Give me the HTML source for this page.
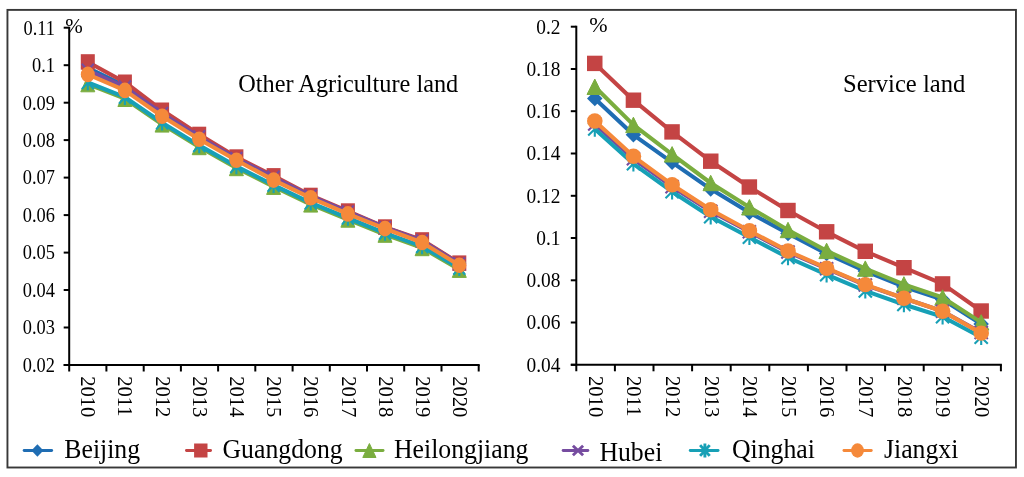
<!DOCTYPE html>
<html><head><meta charset="utf-8"><style>
html,body{margin:0;padding:0;background:#fff;width:1024px;height:477px;overflow:hidden}
svg{display:block;will-change:transform}
text{font-family:"Liberation Serif",serif;fill:#000}
.tk{font-size:20px}
.yr{font-size:20.6px}
.pc{font-size:21px}
.pc2{font-size:22px}
.tt2{font-size:24.6px}
.tt{font-size:24.3px}
.lg{font-size:28px}
</style></head><body>
<svg width="1024" height="477" viewBox="0 0 1024 477">
<rect x="7.45" y="9.9" width="1008.5" height="457.6" fill="none" stroke="#383838" stroke-width="1.9"/>
<line x1="63.7" y1="27.7" x2="69.2" y2="27.7" stroke="#000" stroke-width="2"/>
<text transform="translate(55.0,34.5) scale(0.92,1)" text-anchor="end" class="tk">0.11</text>
<line x1="63.7" y1="65.2" x2="69.2" y2="65.2" stroke="#000" stroke-width="2"/>
<text transform="translate(55.0,72.0) scale(0.92,1)" text-anchor="end" class="tk">0.1</text>
<line x1="63.7" y1="102.7" x2="69.2" y2="102.7" stroke="#000" stroke-width="2"/>
<text transform="translate(55.0,109.5) scale(0.92,1)" text-anchor="end" class="tk">0.09</text>
<line x1="63.7" y1="140.1" x2="69.2" y2="140.1" stroke="#000" stroke-width="2"/>
<text transform="translate(55.0,146.9) scale(0.92,1)" text-anchor="end" class="tk">0.08</text>
<line x1="63.7" y1="177.6" x2="69.2" y2="177.6" stroke="#000" stroke-width="2"/>
<text transform="translate(55.0,184.4) scale(0.92,1)" text-anchor="end" class="tk">0.07</text>
<line x1="63.7" y1="215.1" x2="69.2" y2="215.1" stroke="#000" stroke-width="2"/>
<text transform="translate(55.0,221.9) scale(0.92,1)" text-anchor="end" class="tk">0.06</text>
<line x1="63.7" y1="252.6" x2="69.2" y2="252.6" stroke="#000" stroke-width="2"/>
<text transform="translate(55.0,259.4) scale(0.92,1)" text-anchor="end" class="tk">0.05</text>
<line x1="63.7" y1="290.0" x2="69.2" y2="290.0" stroke="#000" stroke-width="2"/>
<text transform="translate(55.0,296.8) scale(0.92,1)" text-anchor="end" class="tk">0.04</text>
<line x1="63.7" y1="327.5" x2="69.2" y2="327.5" stroke="#000" stroke-width="2"/>
<text transform="translate(55.0,334.3) scale(0.92,1)" text-anchor="end" class="tk">0.03</text>
<line x1="63.7" y1="365.0" x2="69.2" y2="365.0" stroke="#000" stroke-width="2"/>
<text transform="translate(55.0,371.8) scale(0.92,1)" text-anchor="end" class="tk">0.02</text>
<line x1="69.2" y1="26.7" x2="69.2" y2="371.5" stroke="#000" stroke-width="2"/>
<line x1="63.7" y1="365.0" x2="479.7" y2="365.0" stroke="#000" stroke-width="2"/>
<line x1="106.4" y1="365.0" x2="106.4" y2="371.5" stroke="#000" stroke-width="2"/>
<line x1="143.7" y1="365.0" x2="143.7" y2="371.5" stroke="#000" stroke-width="2"/>
<line x1="180.9" y1="365.0" x2="180.9" y2="371.5" stroke="#000" stroke-width="2"/>
<line x1="218.1" y1="365.0" x2="218.1" y2="371.5" stroke="#000" stroke-width="2"/>
<line x1="255.3" y1="365.0" x2="255.3" y2="371.5" stroke="#000" stroke-width="2"/>
<line x1="292.6" y1="365.0" x2="292.6" y2="371.5" stroke="#000" stroke-width="2"/>
<line x1="329.8" y1="365.0" x2="329.8" y2="371.5" stroke="#000" stroke-width="2"/>
<line x1="367.0" y1="365.0" x2="367.0" y2="371.5" stroke="#000" stroke-width="2"/>
<line x1="404.2" y1="365.0" x2="404.2" y2="371.5" stroke="#000" stroke-width="2"/>
<line x1="441.5" y1="365.0" x2="441.5" y2="371.5" stroke="#000" stroke-width="2"/>
<line x1="478.7" y1="365.0" x2="478.7" y2="371.5" stroke="#000" stroke-width="2"/>
<text transform="translate(81.0,376.2) rotate(90)" class="yr">2010</text>
<text transform="translate(118.2,376.2) rotate(90)" class="yr">2011</text>
<text transform="translate(155.5,376.2) rotate(90)" class="yr">2012</text>
<text transform="translate(192.7,376.2) rotate(90)" class="yr">2013</text>
<text transform="translate(229.9,376.2) rotate(90)" class="yr">2014</text>
<text transform="translate(267.1,376.2) rotate(90)" class="yr">2015</text>
<text transform="translate(304.4,376.2) rotate(90)" class="yr">2016</text>
<text transform="translate(341.6,376.2) rotate(90)" class="yr">2017</text>
<text transform="translate(378.8,376.2) rotate(90)" class="yr">2018</text>
<text transform="translate(416.1,376.2) rotate(90)" class="yr">2019</text>
<text transform="translate(453.3,376.2) rotate(90)" class="yr">2020</text>
<polyline points="87.8,67.8 124.9,85.9 162.1,112.8 199.2,136.4 236.4,158.3 273.6,177.4 310.7,196.2 347.9,212.0 385.0,227.6 422.1,240.8 459.3,263.8" fill="none" stroke="#1f6db3" stroke-width="4.1" stroke-linejoin="round"/>
<path d="M87.8,60.1L94.8,67.8L87.8,75.6L80.8,67.8Z" fill="#1f6db3"/>
<path d="M124.9,78.1L131.9,85.9L124.9,93.6L117.9,85.9Z" fill="#1f6db3"/>
<path d="M162.1,105.1L169.1,112.8L162.1,120.6L155.1,112.8Z" fill="#1f6db3"/>
<path d="M199.2,128.7L206.2,136.4L199.2,144.2L192.2,136.4Z" fill="#1f6db3"/>
<path d="M236.4,150.6L243.4,158.3L236.4,166.1L229.4,158.3Z" fill="#1f6db3"/>
<path d="M273.6,169.6L280.6,177.4L273.6,185.1L266.6,177.4Z" fill="#1f6db3"/>
<path d="M310.7,188.5L317.7,196.2L310.7,204.0L303.7,196.2Z" fill="#1f6db3"/>
<path d="M347.9,204.3L354.9,212.0L347.9,219.8L340.9,212.0Z" fill="#1f6db3"/>
<path d="M385.0,219.8L392.0,227.6L385.0,235.3L378.0,227.6Z" fill="#1f6db3"/>
<path d="M422.1,233.0L429.1,240.8L422.1,248.5L415.1,240.8Z" fill="#1f6db3"/>
<path d="M459.3,256.1L466.3,263.8L459.3,271.6L452.3,263.8Z" fill="#1f6db3"/>
<polyline points="87.8,62.0 124.9,82.2 162.1,110.3 199.2,134.4 236.4,157.1 273.6,175.8 310.7,195.4 347.9,211.1 385.0,227.1 422.1,240.0 459.3,263.2" fill="none" stroke="#c44444" stroke-width="4.1" stroke-linejoin="round"/>
<rect x="80.8" y="54.2" width="14.0" height="15.5" fill="#c44444"/>
<rect x="117.9" y="74.5" width="14.0" height="15.5" fill="#c44444"/>
<rect x="155.1" y="102.5" width="14.0" height="15.5" fill="#c44444"/>
<rect x="192.2" y="126.7" width="14.0" height="15.5" fill="#c44444"/>
<rect x="229.4" y="149.3" width="14.0" height="15.5" fill="#c44444"/>
<rect x="266.6" y="168.1" width="14.0" height="15.5" fill="#c44444"/>
<rect x="303.7" y="187.7" width="14.0" height="15.5" fill="#c44444"/>
<rect x="340.9" y="203.3" width="14.0" height="15.5" fill="#c44444"/>
<rect x="378.0" y="219.3" width="14.0" height="15.5" fill="#c44444"/>
<rect x="415.1" y="232.2" width="14.0" height="15.5" fill="#c44444"/>
<rect x="452.3" y="255.4" width="14.0" height="15.5" fill="#c44444"/>
<polyline points="87.8,84.0 124.9,98.7 162.1,124.3 199.2,146.9 236.4,167.9 273.6,186.7 310.7,204.3 347.9,219.5 385.0,234.6 422.1,247.9 459.3,269.6" fill="none" stroke="#7aad3f" stroke-width="4.1" stroke-linejoin="round"/>
<path d="M87.8,76.2L94.8,91.8L80.8,91.8Z" fill="#7aad3f" stroke="#7aad3f" stroke-width="1" stroke-linejoin="round"/>
<path d="M124.9,91.0L131.9,106.5L117.9,106.5Z" fill="#7aad3f" stroke="#7aad3f" stroke-width="1" stroke-linejoin="round"/>
<path d="M162.1,116.5L169.1,132.1L155.1,132.1Z" fill="#7aad3f" stroke="#7aad3f" stroke-width="1" stroke-linejoin="round"/>
<path d="M199.2,139.2L206.2,154.7L192.2,154.7Z" fill="#7aad3f" stroke="#7aad3f" stroke-width="1" stroke-linejoin="round"/>
<path d="M236.4,160.2L243.4,175.7L229.4,175.7Z" fill="#7aad3f" stroke="#7aad3f" stroke-width="1" stroke-linejoin="round"/>
<path d="M273.6,178.9L280.6,194.4L266.6,194.4Z" fill="#7aad3f" stroke="#7aad3f" stroke-width="1" stroke-linejoin="round"/>
<path d="M310.7,196.6L317.7,212.1L303.7,212.1Z" fill="#7aad3f" stroke="#7aad3f" stroke-width="1" stroke-linejoin="round"/>
<path d="M347.9,211.8L354.9,227.2L340.9,227.2Z" fill="#7aad3f" stroke="#7aad3f" stroke-width="1" stroke-linejoin="round"/>
<path d="M385.0,226.8L392.0,242.3L378.0,242.3Z" fill="#7aad3f" stroke="#7aad3f" stroke-width="1" stroke-linejoin="round"/>
<path d="M422.1,240.2L429.1,255.7L415.1,255.7Z" fill="#7aad3f" stroke="#7aad3f" stroke-width="1" stroke-linejoin="round"/>
<path d="M459.3,261.9L466.3,277.4L452.3,277.4Z" fill="#7aad3f" stroke="#7aad3f" stroke-width="1" stroke-linejoin="round"/>
<polyline points="87.8,70.3 124.9,87.1 162.1,113.5 199.2,136.9 236.4,158.5 273.6,177.3 310.7,196.1 347.9,211.9 385.0,227.5 422.1,240.8 459.3,263.8" fill="none" stroke="#764ca0" stroke-width="4.1" stroke-linejoin="round"/>
<path d="M81.8,63.7L93.8,76.9M93.8,63.7L81.8,76.9" stroke="#764ca0" stroke-width="2.1" fill="none"/>
<path d="M119.0,80.5L130.9,93.7M130.9,80.5L119.0,93.7" stroke="#764ca0" stroke-width="2.1" fill="none"/>
<path d="M156.2,107.0L168.0,120.1M168.0,107.0L156.2,120.1" stroke="#764ca0" stroke-width="2.1" fill="none"/>
<path d="M193.3,130.3L205.2,143.4M205.2,130.3L193.3,143.4" stroke="#764ca0" stroke-width="2.1" fill="none"/>
<path d="M230.4,152.0L242.3,165.1M242.3,152.0L230.4,165.1" stroke="#764ca0" stroke-width="2.1" fill="none"/>
<path d="M267.6,170.7L279.5,183.9M279.5,170.7L267.6,183.9" stroke="#764ca0" stroke-width="2.1" fill="none"/>
<path d="M304.8,189.5L316.6,202.7M316.6,189.5L304.8,202.7" stroke="#764ca0" stroke-width="2.1" fill="none"/>
<path d="M341.9,205.4L353.8,218.5M353.8,205.4L341.9,218.5" stroke="#764ca0" stroke-width="2.1" fill="none"/>
<path d="M379.1,221.0L390.9,234.1M390.9,221.0L379.1,234.1" stroke="#764ca0" stroke-width="2.1" fill="none"/>
<path d="M416.2,234.2L428.1,247.3M428.1,234.2L416.2,247.3" stroke="#764ca0" stroke-width="2.1" fill="none"/>
<path d="M453.4,257.2L465.2,270.4M465.2,257.2L453.4,270.4" stroke="#764ca0" stroke-width="2.1" fill="none"/>
<polyline points="87.8,82.5 124.9,97.2 162.1,122.8 199.2,145.4 236.4,166.4 273.6,185.2 310.7,202.8 347.9,218.0 385.0,233.1 422.1,246.4 459.3,268.1" fill="none" stroke="#17a0b6" stroke-width="4.1" stroke-linejoin="round"/>
<path d="M81.8,75.9L93.8,89.1M93.8,75.9L81.8,89.1M87.8,74.8L87.8,90.2" stroke="#17a0b6" stroke-width="2.1" fill="none"/>
<path d="M119.0,90.6L130.9,103.8M130.9,90.6L119.0,103.8M124.9,89.5L124.9,105.0" stroke="#17a0b6" stroke-width="2.1" fill="none"/>
<path d="M156.2,116.2L168.0,129.4M168.0,116.2L156.2,129.4M162.1,115.0L162.1,130.6" stroke="#17a0b6" stroke-width="2.1" fill="none"/>
<path d="M193.3,138.8L205.2,152.0M205.2,138.8L193.3,152.0M199.2,137.7L199.2,153.2" stroke="#17a0b6" stroke-width="2.1" fill="none"/>
<path d="M230.4,159.8L242.3,173.0M242.3,159.8L230.4,173.0M236.4,158.7L236.4,174.2" stroke="#17a0b6" stroke-width="2.1" fill="none"/>
<path d="M267.6,178.6L279.5,191.8M279.5,178.6L267.6,191.8M273.6,177.4L273.6,192.9" stroke="#17a0b6" stroke-width="2.1" fill="none"/>
<path d="M304.8,196.2L316.6,209.4M316.6,196.2L304.8,209.4M310.7,195.1L310.7,210.6" stroke="#17a0b6" stroke-width="2.1" fill="none"/>
<path d="M341.9,211.4L353.8,224.6M353.8,211.4L341.9,224.6M347.9,210.2L347.9,225.8" stroke="#17a0b6" stroke-width="2.1" fill="none"/>
<path d="M379.1,226.5L390.9,239.7M390.9,226.5L379.1,239.7M385.0,225.3L385.0,240.8" stroke="#17a0b6" stroke-width="2.1" fill="none"/>
<path d="M416.2,239.8L428.1,253.0M428.1,239.8L416.2,253.0M422.1,238.7L422.1,254.2" stroke="#17a0b6" stroke-width="2.1" fill="none"/>
<path d="M453.4,261.5L465.2,274.7M465.2,261.5L453.4,274.7M459.3,260.4L459.3,275.9" stroke="#17a0b6" stroke-width="2.1" fill="none"/>
<polyline points="87.8,74.4 124.9,90.4 162.1,116.2 199.2,139.3 236.4,160.3 273.6,180.1 310.7,197.8 347.9,213.9 385.0,228.6 422.1,242.5 459.3,265.2" fill="none" stroke="#f5893a" stroke-width="4.1" stroke-linejoin="round"/>
<ellipse cx="87.8" cy="74.4" rx="7.0" ry="7.8" fill="#f5893a"/>
<ellipse cx="124.9" cy="90.4" rx="7.0" ry="7.8" fill="#f5893a"/>
<ellipse cx="162.1" cy="116.2" rx="7.0" ry="7.8" fill="#f5893a"/>
<ellipse cx="199.2" cy="139.3" rx="7.0" ry="7.8" fill="#f5893a"/>
<ellipse cx="236.4" cy="160.3" rx="7.0" ry="7.8" fill="#f5893a"/>
<ellipse cx="273.6" cy="180.1" rx="7.0" ry="7.8" fill="#f5893a"/>
<ellipse cx="310.7" cy="197.8" rx="7.0" ry="7.8" fill="#f5893a"/>
<ellipse cx="347.9" cy="213.9" rx="7.0" ry="7.8" fill="#f5893a"/>
<ellipse cx="385.0" cy="228.6" rx="7.0" ry="7.8" fill="#f5893a"/>
<ellipse cx="422.1" cy="242.5" rx="7.0" ry="7.8" fill="#f5893a"/>
<ellipse cx="459.3" cy="265.2" rx="7.0" ry="7.8" fill="#f5893a"/>
<text x="65.3" y="33.0" class="pc">%</text>
<text x="238.3" y="91.8" class="tt">Other Agriculture land</text>
<line x1="570.8" y1="26.7" x2="576.3" y2="26.7" stroke="#000" stroke-width="2"/>
<text transform="translate(560.5,33.5) scale(0.97,1)" text-anchor="end" class="tk">0.2</text>
<line x1="570.8" y1="69.0" x2="576.3" y2="69.0" stroke="#000" stroke-width="2"/>
<text transform="translate(560.5,75.8) scale(0.97,1)" text-anchor="end" class="tk">0.18</text>
<line x1="570.8" y1="111.2" x2="576.3" y2="111.2" stroke="#000" stroke-width="2"/>
<text transform="translate(560.5,118.0) scale(0.97,1)" text-anchor="end" class="tk">0.16</text>
<line x1="570.8" y1="153.5" x2="576.3" y2="153.5" stroke="#000" stroke-width="2"/>
<text transform="translate(560.5,160.3) scale(0.97,1)" text-anchor="end" class="tk">0.14</text>
<line x1="570.8" y1="195.8" x2="576.3" y2="195.8" stroke="#000" stroke-width="2"/>
<text transform="translate(560.5,202.6) scale(0.97,1)" text-anchor="end" class="tk">0.12</text>
<line x1="570.8" y1="238.0" x2="576.3" y2="238.0" stroke="#000" stroke-width="2"/>
<text transform="translate(560.5,244.8) scale(0.97,1)" text-anchor="end" class="tk">0.1</text>
<line x1="570.8" y1="280.3" x2="576.3" y2="280.3" stroke="#000" stroke-width="2"/>
<text transform="translate(560.5,287.1) scale(0.97,1)" text-anchor="end" class="tk">0.08</text>
<line x1="570.8" y1="322.5" x2="576.3" y2="322.5" stroke="#000" stroke-width="2"/>
<text transform="translate(560.5,329.3) scale(0.97,1)" text-anchor="end" class="tk">0.06</text>
<line x1="570.8" y1="364.8" x2="576.3" y2="364.8" stroke="#000" stroke-width="2"/>
<text transform="translate(560.5,371.6) scale(0.97,1)" text-anchor="end" class="tk">0.04</text>
<line x1="576.3" y1="25.7" x2="576.3" y2="371.3" stroke="#000" stroke-width="2"/>
<line x1="570.8" y1="364.8" x2="1001.9" y2="364.8" stroke="#000" stroke-width="2"/>
<line x1="614.9" y1="364.8" x2="614.9" y2="371.3" stroke="#000" stroke-width="2"/>
<line x1="653.5" y1="364.8" x2="653.5" y2="371.3" stroke="#000" stroke-width="2"/>
<line x1="692.1" y1="364.8" x2="692.1" y2="371.3" stroke="#000" stroke-width="2"/>
<line x1="730.7" y1="364.8" x2="730.7" y2="371.3" stroke="#000" stroke-width="2"/>
<line x1="769.3" y1="364.8" x2="769.3" y2="371.3" stroke="#000" stroke-width="2"/>
<line x1="807.9" y1="364.8" x2="807.9" y2="371.3" stroke="#000" stroke-width="2"/>
<line x1="846.5" y1="364.8" x2="846.5" y2="371.3" stroke="#000" stroke-width="2"/>
<line x1="885.1" y1="364.8" x2="885.1" y2="371.3" stroke="#000" stroke-width="2"/>
<line x1="923.7" y1="364.8" x2="923.7" y2="371.3" stroke="#000" stroke-width="2"/>
<line x1="962.3" y1="364.8" x2="962.3" y2="371.3" stroke="#000" stroke-width="2"/>
<line x1="1000.9" y1="364.8" x2="1000.9" y2="371.3" stroke="#000" stroke-width="2"/>
<text transform="translate(588.8,376.0) rotate(90)" class="yr">2010</text>
<text transform="translate(627.4,376.0) rotate(90)" class="yr">2011</text>
<text transform="translate(666.0,376.0) rotate(90)" class="yr">2012</text>
<text transform="translate(704.6,376.0) rotate(90)" class="yr">2013</text>
<text transform="translate(743.2,376.0) rotate(90)" class="yr">2014</text>
<text transform="translate(781.8,376.0) rotate(90)" class="yr">2015</text>
<text transform="translate(820.4,376.0) rotate(90)" class="yr">2016</text>
<text transform="translate(859.0,376.0) rotate(90)" class="yr">2017</text>
<text transform="translate(897.6,376.0) rotate(90)" class="yr">2018</text>
<text transform="translate(936.2,376.0) rotate(90)" class="yr">2019</text>
<text transform="translate(974.8,376.0) rotate(90)" class="yr">2020</text>
<polyline points="594.8,98.5 633.4,134.8 672.1,162.3 710.7,189.1 749.4,212.6 788.0,233.5 826.6,253.6 865.3,271.1 903.9,286.7 942.6,299.6 981.2,324.0" fill="none" stroke="#1f6db3" stroke-width="4.1" stroke-linejoin="round"/>
<path d="M594.8,90.8L602.5,98.5L594.8,106.2L587.0,98.5Z" fill="#1f6db3"/>
<path d="M633.4,127.1L641.2,134.8L633.4,142.5L625.7,134.8Z" fill="#1f6db3"/>
<path d="M672.1,154.6L679.8,162.3L672.1,170.0L664.3,162.3Z" fill="#1f6db3"/>
<path d="M710.7,181.4L718.5,189.1L710.7,196.8L703.0,189.1Z" fill="#1f6db3"/>
<path d="M749.4,204.9L757.1,212.6L749.4,220.3L741.6,212.6Z" fill="#1f6db3"/>
<path d="M788.0,225.8L795.8,233.5L788.0,241.2L780.2,233.5Z" fill="#1f6db3"/>
<path d="M826.6,245.9L834.4,253.6L826.6,261.3L818.9,253.6Z" fill="#1f6db3"/>
<path d="M865.3,263.4L873.0,271.1L865.3,278.8L857.5,271.1Z" fill="#1f6db3"/>
<path d="M903.9,279.0L911.7,286.7L903.9,294.4L896.2,286.7Z" fill="#1f6db3"/>
<path d="M942.6,291.9L950.3,299.6L942.6,307.3L934.8,299.6Z" fill="#1f6db3"/>
<path d="M981.2,316.3L988.9,324.0L981.2,331.7L973.4,324.0Z" fill="#1f6db3"/>
<polyline points="594.8,63.4 633.4,100.2 672.1,131.9 710.7,161.2 749.4,187.0 788.0,210.5 826.6,231.8 865.3,251.3 903.9,267.7 942.6,283.9 981.2,311.0" fill="none" stroke="#c44444" stroke-width="4.1" stroke-linejoin="round"/>
<rect x="587.0" y="55.7" width="15.5" height="15.4" fill="#c44444"/>
<rect x="625.7" y="92.5" width="15.5" height="15.4" fill="#c44444"/>
<rect x="664.3" y="124.2" width="15.5" height="15.4" fill="#c44444"/>
<rect x="703.0" y="153.5" width="15.5" height="15.4" fill="#c44444"/>
<rect x="741.6" y="179.3" width="15.5" height="15.4" fill="#c44444"/>
<rect x="780.2" y="202.8" width="15.5" height="15.4" fill="#c44444"/>
<rect x="818.9" y="224.1" width="15.5" height="15.4" fill="#c44444"/>
<rect x="857.5" y="243.6" width="15.5" height="15.4" fill="#c44444"/>
<rect x="896.2" y="260.0" width="15.5" height="15.4" fill="#c44444"/>
<rect x="934.8" y="276.2" width="15.5" height="15.4" fill="#c44444"/>
<rect x="973.4" y="303.3" width="15.5" height="15.4" fill="#c44444"/>
<polyline points="594.8,86.8 633.4,124.9 672.1,154.3 710.7,183.0 749.4,207.3 788.0,230.0 826.6,250.9 865.3,268.6 903.9,284.4 942.6,297.5 981.2,322.4" fill="none" stroke="#7aad3f" stroke-width="4.1" stroke-linejoin="round"/>
<path d="M594.8,79.1L602.5,94.5L587.0,94.5Z" fill="#7aad3f" stroke="#7aad3f" stroke-width="1" stroke-linejoin="round"/>
<path d="M633.4,117.2L641.2,132.6L625.7,132.6Z" fill="#7aad3f" stroke="#7aad3f" stroke-width="1" stroke-linejoin="round"/>
<path d="M672.1,146.6L679.8,162.0L664.3,162.0Z" fill="#7aad3f" stroke="#7aad3f" stroke-width="1" stroke-linejoin="round"/>
<path d="M710.7,175.3L718.5,190.7L703.0,190.7Z" fill="#7aad3f" stroke="#7aad3f" stroke-width="1" stroke-linejoin="round"/>
<path d="M749.4,199.6L757.1,215.0L741.6,215.0Z" fill="#7aad3f" stroke="#7aad3f" stroke-width="1" stroke-linejoin="round"/>
<path d="M788.0,222.3L795.8,237.7L780.2,237.7Z" fill="#7aad3f" stroke="#7aad3f" stroke-width="1" stroke-linejoin="round"/>
<path d="M826.6,243.2L834.4,258.6L818.9,258.6Z" fill="#7aad3f" stroke="#7aad3f" stroke-width="1" stroke-linejoin="round"/>
<path d="M865.3,260.9L873.0,276.3L857.5,276.3Z" fill="#7aad3f" stroke="#7aad3f" stroke-width="1" stroke-linejoin="round"/>
<path d="M903.9,276.7L911.7,292.1L896.2,292.1Z" fill="#7aad3f" stroke="#7aad3f" stroke-width="1" stroke-linejoin="round"/>
<path d="M942.6,289.8L950.3,305.2L934.8,305.2Z" fill="#7aad3f" stroke="#7aad3f" stroke-width="1" stroke-linejoin="round"/>
<path d="M981.2,314.7L988.9,330.1L973.4,330.1Z" fill="#7aad3f" stroke="#7aad3f" stroke-width="1" stroke-linejoin="round"/>
<polyline points="594.8,124.0 633.4,158.8 672.1,186.7 710.7,211.3 749.4,231.8 788.0,252.0 826.6,268.7 865.3,285.1 903.9,298.2 942.6,311.2 981.2,332.6" fill="none" stroke="#764ca0" stroke-width="4.1" stroke-linejoin="round"/>
<path d="M588.2,117.5L601.4,130.5M601.4,117.5L588.2,130.5" stroke="#764ca0" stroke-width="2.1" fill="none"/>
<path d="M626.9,152.3L640.0,165.3M640.0,152.3L626.9,165.3" stroke="#764ca0" stroke-width="2.1" fill="none"/>
<path d="M665.5,180.2L678.7,193.2M678.7,180.2L665.5,193.2" stroke="#764ca0" stroke-width="2.1" fill="none"/>
<path d="M704.1,204.8L717.3,217.8M717.3,204.8L704.1,217.8" stroke="#764ca0" stroke-width="2.1" fill="none"/>
<path d="M742.8,225.3L755.9,238.3M755.9,225.3L742.8,238.3" stroke="#764ca0" stroke-width="2.1" fill="none"/>
<path d="M781.4,245.5L794.6,258.5M794.6,245.5L781.4,258.5" stroke="#764ca0" stroke-width="2.1" fill="none"/>
<path d="M820.1,262.2L833.2,275.2M833.2,262.2L820.1,275.2" stroke="#764ca0" stroke-width="2.1" fill="none"/>
<path d="M858.7,278.6L871.9,291.6M871.9,278.6L858.7,291.6" stroke="#764ca0" stroke-width="2.1" fill="none"/>
<path d="M897.3,291.7L910.5,304.7M910.5,291.7L897.3,304.7" stroke="#764ca0" stroke-width="2.1" fill="none"/>
<path d="M936.0,304.7L949.1,317.7M949.1,304.7L936.0,317.7" stroke="#764ca0" stroke-width="2.1" fill="none"/>
<path d="M974.6,326.1L987.8,339.1M987.8,326.1L974.6,339.1" stroke="#764ca0" stroke-width="2.1" fill="none"/>
<polyline points="594.8,129.0 633.4,163.8 672.1,191.7 710.7,216.8 749.4,237.3 788.0,257.5 826.6,274.7 865.3,290.9 903.9,304.5 942.6,316.7 981.2,337.3" fill="none" stroke="#17a0b6" stroke-width="4.1" stroke-linejoin="round"/>
<path d="M588.2,122.5L601.4,135.5M601.4,122.5L588.2,135.5M594.8,121.3L594.8,136.7" stroke="#17a0b6" stroke-width="2.1" fill="none"/>
<path d="M626.9,157.3L640.0,170.3M640.0,157.3L626.9,170.3M633.4,156.1L633.4,171.5" stroke="#17a0b6" stroke-width="2.1" fill="none"/>
<path d="M665.5,185.2L678.7,198.2M678.7,185.2L665.5,198.2M672.1,184.0L672.1,199.4" stroke="#17a0b6" stroke-width="2.1" fill="none"/>
<path d="M704.1,210.3L717.3,223.3M717.3,210.3L704.1,223.3M710.7,209.1L710.7,224.5" stroke="#17a0b6" stroke-width="2.1" fill="none"/>
<path d="M742.8,230.8L755.9,243.8M755.9,230.8L742.8,243.8M749.4,229.6L749.4,245.0" stroke="#17a0b6" stroke-width="2.1" fill="none"/>
<path d="M781.4,251.0L794.6,264.0M794.6,251.0L781.4,264.0M788.0,249.8L788.0,265.2" stroke="#17a0b6" stroke-width="2.1" fill="none"/>
<path d="M820.1,268.2L833.2,281.2M833.2,268.2L820.1,281.2M826.6,267.0L826.6,282.4" stroke="#17a0b6" stroke-width="2.1" fill="none"/>
<path d="M858.7,284.4L871.9,297.4M871.9,284.4L858.7,297.4M865.3,283.2L865.3,298.6" stroke="#17a0b6" stroke-width="2.1" fill="none"/>
<path d="M897.3,298.0L910.5,311.0M910.5,298.0L897.3,311.0M903.9,296.8L903.9,312.2" stroke="#17a0b6" stroke-width="2.1" fill="none"/>
<path d="M936.0,310.2L949.1,323.2M949.1,310.2L936.0,323.2M942.6,309.0L942.6,324.4" stroke="#17a0b6" stroke-width="2.1" fill="none"/>
<path d="M974.6,330.8L987.8,343.8M987.8,330.8L974.6,343.8M981.2,329.6L981.2,345.0" stroke="#17a0b6" stroke-width="2.1" fill="none"/>
<polyline points="594.8,121.0 633.4,156.3 672.1,184.7 710.7,209.8 749.4,230.8 788.0,251.0 826.6,268.2 865.3,284.6 903.9,298.2 942.6,311.2 981.2,333.1" fill="none" stroke="#f5893a" stroke-width="4.1" stroke-linejoin="round"/>
<ellipse cx="594.8" cy="121.0" rx="7.8" ry="7.7" fill="#f5893a"/>
<ellipse cx="633.4" cy="156.3" rx="7.8" ry="7.7" fill="#f5893a"/>
<ellipse cx="672.1" cy="184.7" rx="7.8" ry="7.7" fill="#f5893a"/>
<ellipse cx="710.7" cy="209.8" rx="7.8" ry="7.7" fill="#f5893a"/>
<ellipse cx="749.4" cy="230.8" rx="7.8" ry="7.7" fill="#f5893a"/>
<ellipse cx="788.0" cy="251.0" rx="7.8" ry="7.7" fill="#f5893a"/>
<ellipse cx="826.6" cy="268.2" rx="7.8" ry="7.7" fill="#f5893a"/>
<ellipse cx="865.3" cy="284.6" rx="7.8" ry="7.7" fill="#f5893a"/>
<ellipse cx="903.9" cy="298.2" rx="7.8" ry="7.7" fill="#f5893a"/>
<ellipse cx="942.6" cy="311.2" rx="7.8" ry="7.7" fill="#f5893a"/>
<ellipse cx="981.2" cy="333.1" rx="7.8" ry="7.7" fill="#f5893a"/>
<text x="589.2" y="32.2" class="pc2">%</text>
<text x="843.0" y="91.6" class="tt2">Service land</text>
<line x1="24.1" y1="450.5" x2="51.7" y2="450.5" stroke="#1f6db3" stroke-width="2.8" stroke-linecap="round"/>
<path d="M37.4,444.3L43.4,450.5L37.4,456.7L31.4,450.5Z" fill="#1f6db3"/>
<text transform="translate(64.3,457.8) scale(0.92,1)" class="lg">Beijing</text>
<line x1="186.4" y1="450.5" x2="210.6" y2="450.5" stroke="#c44444" stroke-width="2.8" stroke-linecap="round"/>
<rect x="194.1" y="443.5" width="13.4" height="14.0" fill="#c44444"/>
<text transform="translate(222.5,457.8) scale(0.92,1)" class="lg">Guangdong</text>
<line x1="355.9" y1="450.5" x2="383.1" y2="450.5" stroke="#7aad3f" stroke-width="2.8" stroke-linecap="round"/>
<path d="M369.4,443.5L376.0,457.5L362.8,457.5Z" fill="#7aad3f" stroke="#7aad3f" stroke-width="1" stroke-linejoin="round"/>
<text transform="translate(394.0,457.8) scale(0.92,1)" class="lg">Heilongjiang</text>
<line x1="563.1" y1="450.5" x2="587.9" y2="450.5" stroke="#764ca0" stroke-width="2.8" stroke-linecap="round"/>
<path d="M572.9,445.7L583.1,455.3M583.1,445.7L572.9,455.3" stroke="#764ca0" stroke-width="2.9" fill="none"/>
<text transform="translate(599.4,461.0) scale(0.92,1)" class="lg">Hubei</text>
<line x1="690.2" y1="450.5" x2="718.1" y2="450.5" stroke="#17a0b6" stroke-width="2.8" stroke-linecap="round"/>
<path d="M700.1,445.1L709.7,455.9M709.7,445.1L700.1,455.9M704.9,443.6L704.9,457.4" stroke="#17a0b6" stroke-width="2.9" fill="none"/>
<text transform="translate(732.0,457.8) scale(0.92,1)" class="lg">Qinghai</text>
<line x1="843.9" y1="450.5" x2="871.3" y2="450.5" stroke="#f5893a" stroke-width="2.8" stroke-linecap="round"/>
<ellipse cx="857.5" cy="450.5" rx="6.4" ry="7.2" fill="#f5893a"/>
<text transform="translate(884.0,457.8) scale(0.92,1)" class="lg">Jiangxi</text>
</svg>
</body></html>
